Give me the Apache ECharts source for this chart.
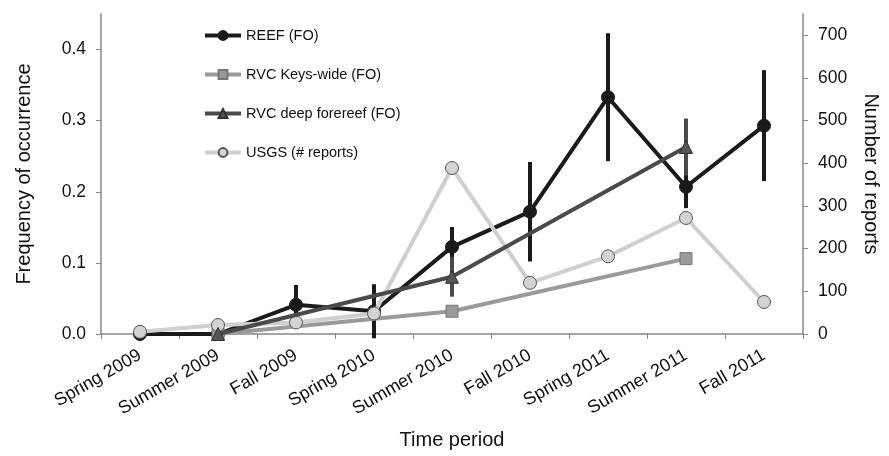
<!DOCTYPE html>
<html><head><meta charset="utf-8">
<script src="https://cdn.jsdelivr.net/npm/echarts@6/dist/echarts.min.js"></script>
<style>html,body{margin:0;padding:0;background:#fff}#c{width:889px;height:456px}</style>
</head><body><div id="c"></div>
<script>
const categories = ['Spring 2009','Summer 2009','Fall 2009','Spring 2010','Summer 2010','Fall 2010','Spring 2011','Summer 2011','Fall 2011'];
const reefFO    = [0, 0, 0.041, 0.032, 0.1225, 0.172, 0.333, 0.207, 0.293];
const reefErr   = [null, null, 0.028, 0.038, 0.028, 0.07, 0.09, 0.03, 0.078];
const keysFO    = [null, 0, null, null, 0.032, null, null, 0.106, null];
const deepFO    = [null, 0, null, null, 0.0805, null, null, 0.263, null];
const deepErr   = [null, null, null, null, 0.028, null, null, 0.04, null];
const usgsReports = [5, 21, 27, 48, 389, 120, 182, 272, 75];
const leftTicks = [0, 0.1, 0.2, 0.3, 0.4];
const rightTicks = [0, 100, 200, 300, 400, 500, 600, 700];

const FONT = 'Liberation Sans, Arial, sans-serif';

function errSeries(vals, errs, color, z) {
  const data = [];
  vals.forEach((v, i) => { if (v != null && errs[i] != null) data.push([i, v, errs[i]]); });
  return {
    type: 'custom', xAxisIndex: 0, yAxisIndex: 0, z: z, clip: false, silent: true,
    renderItem: (params, api) => {
      const x = api.value(0), v = api.value(1), e = api.value(2);
      const t = api.coord([x, v + e]), b = api.coord([x, v - e]);
      return { type: 'line', shape: { x1: t[0], y1: t[1], x2: b[0], y2: b[1] },
        style: { stroke: color, lineWidth: 4 } };
    },
    data: data
  };
}

const chart = echarts.init(document.getElementById('c'), null, { renderer: 'canvas' });
chart.setOption({
  animation: false,
  textStyle: { fontFamily: FONT },
  grid: { left: 101, right: 86, top: 14, bottom: 122 },
  legend: {
    orient: 'vertical', left: 198, top: 23, itemWidth: 36, itemHeight: 11, itemGap: 24,
    lineStyle: { width: 4 },
    data: ['REEF (FO)', 'RVC Keys-wide (FO)', 'RVC deep forereef (FO)', 'USGS (# reports)'],
    textStyle: { fontSize: 14.5, color: '#111', fontFamily: FONT }
  },
  xAxis: {
    type: 'category', data: categories, boundaryGap: true,
    axisLine: { lineStyle: { color: '#888', width: 1.5 } },
    axisTick: { show: true, length: 5, lineStyle: { color: '#888' } },
    axisLabel: { rotate: 30, fontSize: 18, color: '#111', fontFamily: FONT, interval: 0, margin: 20 },
    name: 'Time period', nameLocation: 'middle', nameGap: 96,
    nameTextStyle: { fontSize: 20, color: '#111', fontFamily: FONT }
  },
  yAxis: [{
    type: 'value', min: 0, max: 0.45, interval: 0.1, position: 'left',
    axisLine: { show: true, lineStyle: { color: '#888', width: 1.5 } },
    axisTick: { show: true, length: 5, customValues: leftTicks, lineStyle: { color: '#888' } },
    axisLabel: { customValues: leftTicks, formatter: v => v.toFixed(1), fontSize: 17.5, color: '#111', fontFamily: FONT, margin: 15 },
    splitLine: { show: false },
    name: 'Frequency of occurrence', nameLocation: 'middle', nameGap: 67,
    nameTextStyle: { fontSize: 20, color: '#111', fontFamily: FONT }
  }, {
    type: 'value', min: 0, max: 750, interval: 100, position: 'right',
    axisLine: { show: true, lineStyle: { color: '#888', width: 1.5 } },
    axisTick: { show: true, length: 5, customValues: rightTicks, lineStyle: { color: '#888' } },
    axisLabel: { customValues: rightTicks, fontSize: 17.5, color: '#111', fontFamily: FONT, margin: 15 },
    splitLine: { show: false },
    name: 'Number of reports', nameLocation: 'middle', nameGap: 58, nameRotate: -90,
    nameTextStyle: { fontSize: 20, color: '#111', fontFamily: FONT }
  }],
  series: [
    errSeries(reefFO, reefErr, '#1a1a1a', 2),
    errSeries(deepFO, deepErr, '#4a4a4a', 2),
    {
      name: 'REEF (FO)', type: 'line', data: reefFO, yAxisIndex: 0, z: 3,
      symbol: 'circle', symbolSize: 13, connectNulls: true,
      lineStyle: { color: '#1a1a1a', width: 4 },
      itemStyle: { color: '#1a1a1a', borderColor: '#1a1a1a', borderWidth: 1 }
    },
    {
      name: 'RVC Keys-wide (FO)', type: 'line', data: keysFO, yAxisIndex: 0, z: 4,
      symbol: 'rect', symbolSize: 12, connectNulls: true,
      lineStyle: { color: '#9a9a9a', width: 4 },
      itemStyle: { color: '#999999', borderColor: '#777', borderWidth: 1 }
    },
    {
      name: 'RVC deep forereef (FO)', type: 'line', data: deepFO, yAxisIndex: 0, z: 5,
      symbol: 'triangle', symbolSize: 13, connectNulls: true,
      lineStyle: { color: '#4a4a4a', width: 4 },
      itemStyle: { color: '#555', borderColor: '#333', borderWidth: 1 }
    },
    {
      name: 'USGS (# reports)', type: 'line', data: usgsReports, yAxisIndex: 1, z: 4,
      symbol: 'circle', symbolSize: 13,
      lineStyle: { color: '#cfcfcf', width: 4 },
      itemStyle: { color: '#d3d3d3', borderColor: '#555', borderWidth: 1 }
    }
  ]
});
</script></body></html>
